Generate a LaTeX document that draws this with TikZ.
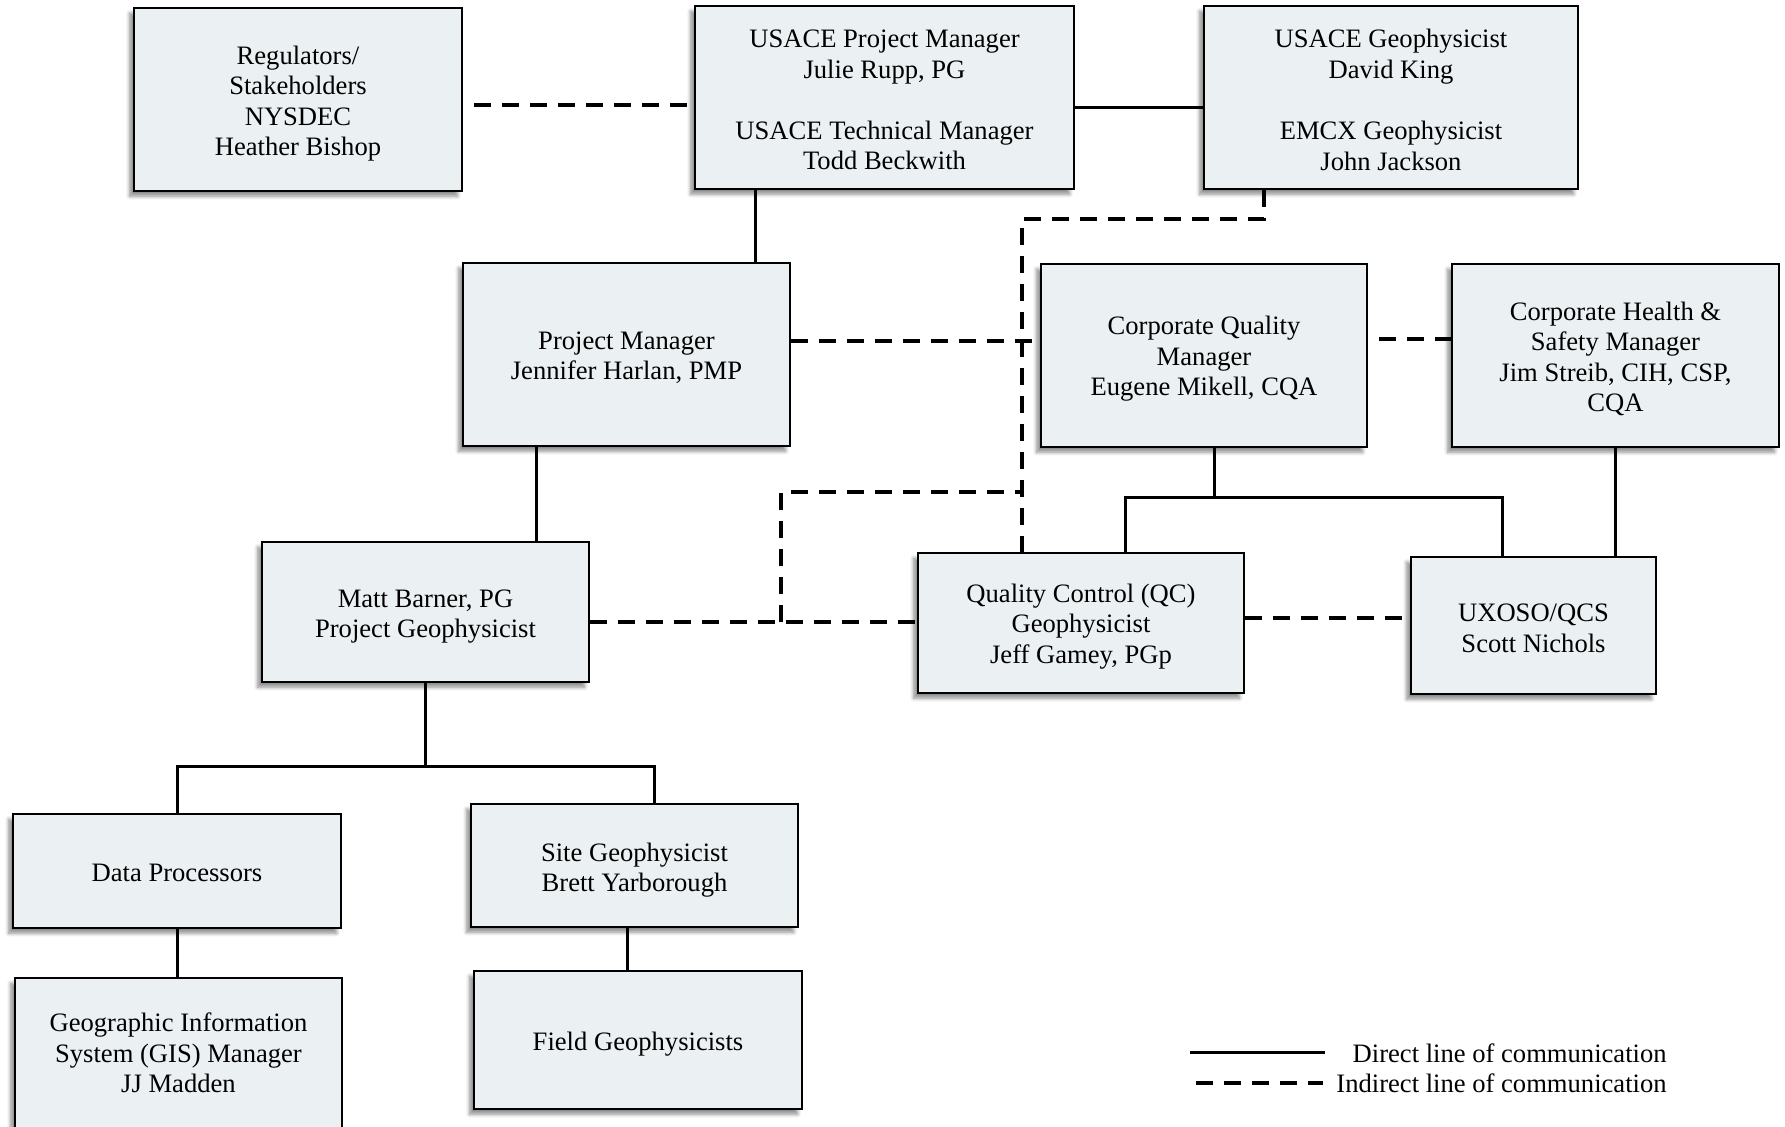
\documentclass[tikz,border=0pt]{standalone}
\usepackage{fontspec}
\setmainfont{Liberation Serif}
\usetikzlibrary{calc,shadows.blur}
\definecolor{boxfill}{RGB}{235,240,243}
\tikzset{
  orgbox/.style={draw=black, line width=0.9pt, fill=boxfill, inner sep=0pt,
    blur shadow={shadow xshift=-2.2pt, shadow yshift=-2.6pt, shadow blur steps=6, shadow opacity=45}},
  boxtext/.style={align=center, inner sep=0pt, font=\fontsize{13.3}{15.3}\selectfont},
  sz/.style 2 args={minimum width=#1*0.5pt, minimum height=#2*0.5pt},
  direct/.style={line width=1.5pt, line join=miter},
  indirect/.style={line width=1.7pt, dash pattern=on 8.5pt off 5.5pt},
  legtext/.style={anchor=base east, inner sep=0pt, font=\fontsize{13.3}{15.3}\selectfont}
}
\begin{document}
\begin{tikzpicture}[x=0.5pt, y=-0.5pt]
\useasboundingbox (0,0) rectangle (1785,1126);

% ---- boxes ----
\node[orgbox, sz={328}{183}] (reg) at (298,99.5) {};
\node[orgbox, sz={379}{183}] (usacepm) at (884.5,97.5) {};
\node[orgbox, sz={374}{183}] (usacegeo) at (1391,97.5) {};
\node[orgbox, sz={327}{183}] (pm) at (626.5,354.5) {};
\node[orgbox, sz={326}{183}] (cqm) at (1204,355.5) {};
\node[orgbox, sz={327}{183}] (chs) at (1615.5,355.5) {};
\node[orgbox, sz={327}{140}] (matt) at (425.5,612) {};
\node[orgbox, sz={326}{140}] (qc) at (1081,623) {};
\node[orgbox, sz={245}{137}] (ux) at (1533.5,625.5) {};
\node[orgbox, sz={328}{114}] (dp) at (177,871) {};
\node[orgbox, sz={327}{123}] (site) at (634.5,865.5) {};
\node[orgbox, sz={327}{152}] (gis) at (178.5,1054) {};
\node[orgbox, sz={328}{138}] (field) at (638,1040) {};

% ---- box texts ----
\node[boxtext] (regt) at ($(reg)+(0,4)$) {Regulators/\\Stakeholders\\NYSDEC\\Heather Bishop};
\node[boxtext] (usacepmt) at ($(usacepm)+(0,2.5)$) {USACE Project Manager\\Julie Rupp, PG\\[15.3pt]USACE Technical Manager\\Todd Beckwith};
\node[boxtext] (usacegeot) at ($(usacegeo)+(0,2.5)$) {USACE Geophysicist\\David King\\[15.3pt]EMCX Geophysicist\\John Jackson};
\node[boxtext] (pmt) at ($(pm)+(0,3.4)$) {Project Manager\\Jennifer Harlan, PMP};
\node[boxtext] (cqmt) at ($(cqm)+(0,3.4)$) {Corporate Quality\\Manager\\Eugene Mikell, CQA};
\node[boxtext] (chst) at ($(chs)+(0,3.4)$) {Corporate Health \&\\Safety Manager\\Jim Streib, CIH, CSP,\\CQA};
\node[boxtext] (mattt) at ($(matt)+(0,4.5)$) {Matt Barner, PG\\Project Geophysicist};
\node[boxtext] (qct) at ($(qc)+(0,3.4)$) {Quality Control (QC)\\Geophysicist\\Jeff Gamey, PGp};
\node[boxtext] (uxt) at ($(ux)+(0,2.8)$) {UXOSO/QCS\\Scott Nichols};
\node[boxtext] (dpt) at ($(dp)+(0,2.3)$) {Data Processors};
\node[boxtext] (sitet) at ($(site)+(0,4.5)$) {Site Geophysicist\\Brett Yarborough};
\node[boxtext] (gist) at ($(gis)+(0,-1)$) {Geographic Information\\System (GIS) Manager\\JJ Madden};
\node[boxtext] (fieldt) at ($(field)+(0,4.5)$) {Field Geophysicists};

% ---- attachment points and bends ----
\coordinate (r1) at ($(reg.east)+(0,5.5)$);
\coordinate (u1) at ($(usacepm.east)+(0,9.5)$);
\coordinate (u2) at ($(usacepm.south)+(-129.5,0)$);
\coordinate (g1) at ($(usacegeo.south)+(-127,0)$);
\coordinate (dv) at (1022,219);
\coordinate (p1) at ($(pm.east)+(0,-13.5)$);
\coordinate (p2) at ($(pm.south)+(-90.5,0)$);
\coordinate (m1) at ($(matt.east)+(0,10)$);
\coordinate (lp) at (781,492);
\coordinate (q1) at ($(cqm.south)+(10,0)$);
\coordinate (qb) at (1125,497);
\coordinate (x1) at ($(ux.north)+(-31.5,0)$);
\coordinate (c1) at ($(cqm.east)+(0,-16.5)$);
\coordinate (q2) at ($(qc.east)+(0,-5)$);
\coordinate (bus) at (0,766);
\coordinate (sb) at ($(site.north)+(20,0)$);
\coordinate (s1) at ($(site.south)+(-7.5,0)$);

% ---- direct lines ----
\draw[direct] (u1) -- (u1 -| usacegeo.west);
\draw[direct] (u2) -- (u2 |- pm.north);
\draw[direct] (p2) -- (p2 |- matt.north);
\draw[direct] (q1) -- (q1 |- qb);
\draw[direct] (qb |- qc.north) -- (qb) -| (x1);
\draw[direct] (chs.south) -- (chs.south |- ux.north);
\draw[direct] (matt.south) -- (matt.south |- bus);
\draw[direct] (dp.north) -- (dp.north |- bus) -- (bus -| sb) -- (sb);
\draw[direct] (dp.south) -- (dp.south |- gis.north);
\draw[direct] (s1) -- (s1 |- field.north);

% ---- indirect lines ----
\draw[indirect, dash phase=8.5pt] (r1) -- (r1 -| usacepm.west);
\draw[indirect] (g1) |- (dv) -- (dv |- qc.north);
\draw[indirect] (p1) -- (p1 -| cqm.west);
\draw[indirect] (m1) -- (m1 -| qc.west);
\draw[indirect] (lp |- m1) -- (lp) -- (lp -| dv);
\draw[indirect, dash phase=8.5pt] (c1) -- (c1 -| chs.west);
\draw[indirect] (q2) -- (q2 -| ux.west);

% ---- legend ----
\coordinate (la) at (1190,1052);
\coordinate (lb) at (1325,1052);
\coordinate (lc) at (1196,1083);
\coordinate (ld) at (1323,1083);
\draw[direct] (la) -- (lb);
\draw[indirect] (lc) -- (ld);
\node[legtext] (lt1) at (1667,1062) {Direct line of communication};
\node[legtext] (lt2) at (1667,1092) {Indirect line of communication};
\end{tikzpicture}
\end{document}
